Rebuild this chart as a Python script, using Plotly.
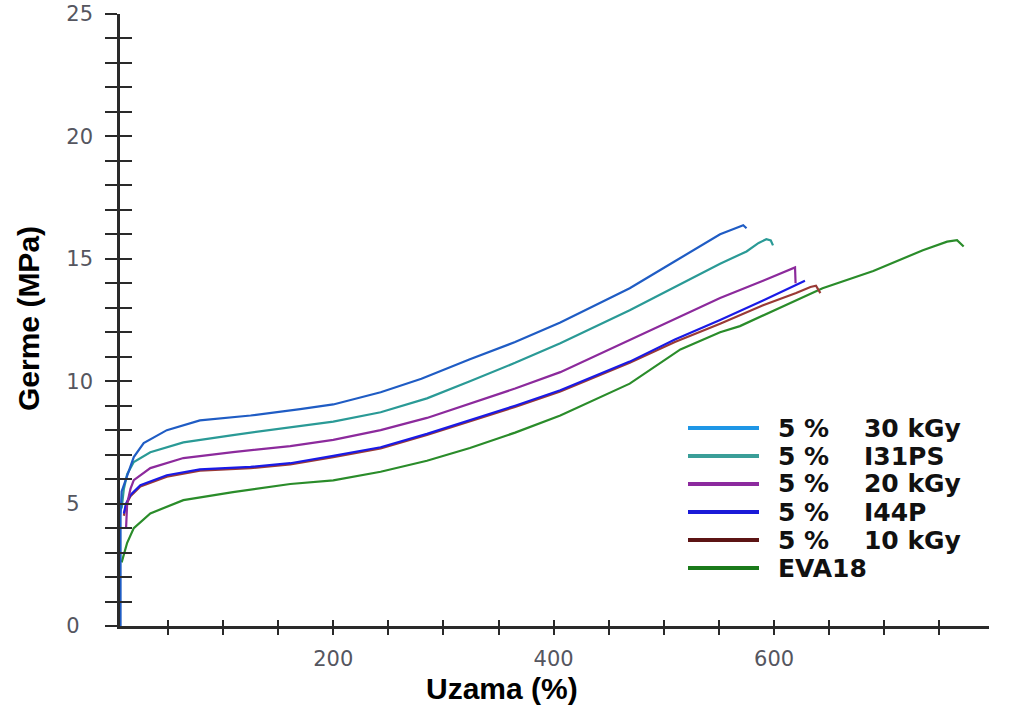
import plotly.graph_objects as go

# ---------------- data ----------------
series_names = ["5 %  30 kGy", "5 %  I31PS", "5 %  20 kGy", "5 %  I44P", "5 %  10 kGy", "EVA18"]

x_30kgy = [7, 7, 8, 12, 16, 19, 28, 49, 79, 125, 170, 200, 243, 280, 324, 365, 406, 469, 510, 551, 565, 572, 575]
y_30kgy = [0, 4.5, 5.5, 6.0, 6.5, 6.9, 7.47, 8.0, 8.4, 8.6, 8.86, 9.05, 9.55, 10.1, 10.9, 11.6, 12.4, 13.8, 14.9, 16.0, 16.25, 16.37, 16.25]

x_i31ps = [8, 10, 13, 19, 34, 64, 109, 161, 200, 243, 285, 324, 365, 406, 469, 510, 551, 575, 586, 593, 597, 599]
y_i31ps = [4.8, 5.6, 6.2, 6.7, 7.1, 7.5, 7.8, 8.1, 8.35, 8.73, 9.3, 10.0, 10.75, 11.55, 12.9, 13.85, 14.8, 15.3, 15.65, 15.8, 15.75, 15.55]

x_20kgy = [12, 13, 16, 19, 34, 64, 109, 161, 200, 243, 285, 324, 365, 406, 469, 510, 551, 590, 619, 619.5]
y_20kgy = [4.0, 5.0, 5.6, 5.96, 6.45, 6.86, 7.1, 7.35, 7.6, 8.0, 8.5, 9.1, 9.7, 10.37, 11.7, 12.55, 13.4, 14.1, 14.65, 14.0]

x_i44p = [10, 12, 16, 25, 49, 79, 125, 161, 200, 243, 285, 324, 365, 406, 469, 510, 551, 590, 628]
y_i44p = [4.6, 5.0, 5.35, 5.75, 6.16, 6.4, 6.5, 6.65, 6.95, 7.3, 7.85, 8.4, 9.0, 9.63, 10.8, 11.7, 12.5, 13.3, 14.1]

x_10kgy = [10, 12, 16, 25, 49, 79, 125, 161, 200, 243, 285, 324, 365, 406, 469, 510, 551, 590, 620, 633, 638, 642]
y_10kgy = [4.5, 4.95, 5.3, 5.7, 6.1, 6.35, 6.45, 6.6, 6.9, 7.25, 7.8, 8.35, 8.95, 9.58, 10.75, 11.6, 12.35, 13.1, 13.6, 13.85, 13.9, 13.6]

x_eva18 = [8, 13, 19, 34, 64, 109, 161, 200, 243, 285, 324, 365, 406, 469, 515, 551, 569, 600, 644, 690, 735, 757, 766, 772]
y_eva18 = [2.6, 3.4, 4.0, 4.6, 5.14, 5.47, 5.8, 5.95, 6.3, 6.75, 7.27, 7.9, 8.6, 9.9, 11.3, 12.0, 12.25, 12.9, 13.8, 14.5, 15.35, 15.7, 15.76, 15.5]

x_tick_values = list(range(50, 800, 50))
x_tick_labels = ["200", "400", "600"]
y_tick_values = list(range(0, 26))
y_tick_labels = ["0", "5", "10", "15", "20", "25"]

x_title = "Uzama (%)"
y_title = "Germe (MPa)"

# ---------------- styles ----------------
curve_colors = ["#1f5cc4", "#2a9a96", "#8c2a9c", "#1a1ae6", "#9a3a36", "#2a8c2a"]
legend_colors = ["#1e96e6", "#3a9e98", "#8c2a9e", "#1a1ad8", "#5c1414", "#1a7a1a"]

series_x = [x_30kgy, x_i31ps, x_20kgy, x_i44p, x_10kgy, x_eva18]
series_y = [y_30kgy, y_i31ps, y_20kgy, y_i44p, y_10kgy, y_eva18]
draw_order = [5, 4, 3, 2, 1, 0]

fig = go.Figure()
for i in draw_order:
    fig.add_trace(go.Scatter(
        x=series_x[i], y=series_y[i], mode="lines", name=series_names[i],
        line=dict(color=curve_colors[i], width=2.2), showlegend=False,
    ))

# invisible helper trace on overlay axes so the crossing ticks are drawn
fig.add_trace(go.Scatter(x=[None], y=[None], xaxis="x2", yaxis="y2", showlegend=False, hoverinfo="skip"))

x_ticktext = [str(v) if str(v) in x_tick_labels else "" for v in x_tick_values]
# single-digit labels are left aligned with the two-digit ones in the original
y_ticktext = [(str(v) + ("\u2007" if len(str(v)) == 1 else "")) if str(v) in y_tick_labels else ""
              for v in y_tick_values]

axis_color = "#2a2a2a"
tick_font = dict(family="DejaVu Sans", size=21, color="#55565f")
x_range = [6.5, 795]
y_range = [0, 25]

fig.update_layout(
    width=1010, height=711,
    margin=dict(l=120, r=21, t=14, b=85, autoexpand=False),
    paper_bgcolor="white", plot_bgcolor="white",
    showlegend=False,
    xaxis=dict(range=x_range, showgrid=False, zeroline=False, showline=True,
               linecolor=axis_color, linewidth=2.5, ticks="outside", ticklen=6,
               tickwidth=2, tickcolor=axis_color, tickmode="array",
               tickvals=x_tick_values, ticktext=x_ticktext, tickfont=tick_font,
               ticklabelstandoff=6, automargin=False),
    yaxis=dict(range=y_range, showgrid=False, zeroline=False, showline=True,
               linecolor=axis_color, linewidth=2.5, ticks="outside", ticklen=12,
               tickwidth=2, tickcolor=axis_color, tickmode="array",
               tickvals=y_tick_values, ticktext=y_ticktext, tickfont=tick_font,
               ticklabelstandoff=8, automargin=False),
    xaxis2=dict(range=x_range, overlaying="x", anchor="y", showgrid=False,
                zeroline=False, showline=False, ticks="inside", ticklen=6,
                tickwidth=2, tickcolor=axis_color, tickmode="array",
                tickvals=x_tick_values, showticklabels=False, automargin=False),
    yaxis2=dict(range=y_range, overlaying="y", anchor="x", side="left",
                showgrid=False, zeroline=False, showline=False, ticks="inside",
                ticklen=12, tickwidth=2, tickcolor=axis_color, tickmode="array",
                tickvals=y_tick_values, showticklabels=False, automargin=False),
)

# axis titles
plot_left, plot_right, plot_top, plot_bottom = 120, 989, 14, 626
pw, ph = plot_right - plot_left, plot_bottom - plot_top

def px_x(p):
    return (p - plot_left) / pw

def px_y(p):
    return (plot_bottom - p) / ph

title_font = dict(family="Liberation Sans, Arial", size=30, color="black")
fig.add_annotation(text="<b>" + x_title + "</b>", xref="paper", yref="paper",
                   x=px_x(502), y=px_y(688), showarrow=False, font=title_font,
                   xanchor="center", yanchor="middle")
fig.add_annotation(text="<b>" + y_title + "</b>", xref="paper", yref="paper",
                   x=px_x(28), y=px_y(319), showarrow=False, font=title_font,
                   textangle=-90, xanchor="center", yanchor="middle")

# custom legend (long line samples like the original)
legend_font = dict(family="DejaVu Sans", size=25, color="#111111")
row0, row_step = 428, 28
for k, name in enumerate(series_names):
    yp = px_y(row0 + k * row_step)
    fig.add_shape(type="line", xref="paper", yref="paper",
                  x0=px_x(688), x1=px_x(759), y0=yp, y1=yp,
                  line=dict(color=legend_colors[k], width=4))
    fig.add_annotation(text="<b>" + name.replace("  ", "\u00a0" * 4) + "</b>",
                       xref="paper", yref="paper", x=px_x(776), y=yp,
                       showarrow=False, font=legend_font,
                       xanchor="left", yanchor="middle")

fig.write_html("out.html")
